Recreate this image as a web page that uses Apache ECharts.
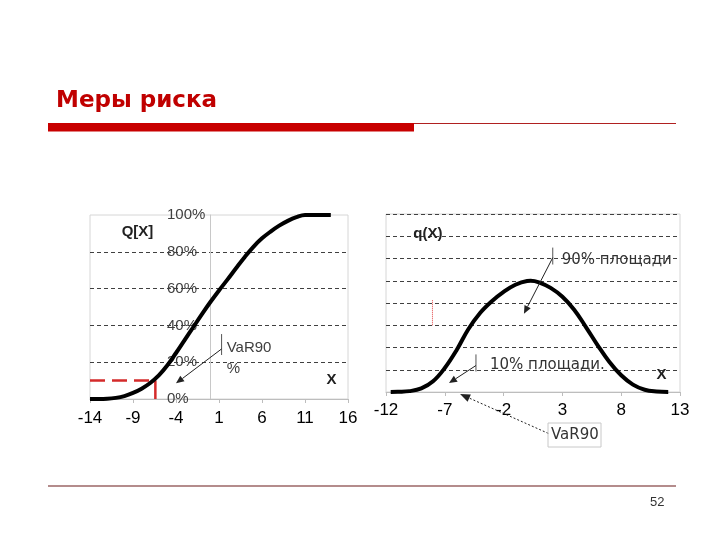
<!DOCTYPE html>
<html><head><meta charset="utf-8">
<script src="https://cdn.jsdelivr.net/npm/echarts@6/dist/echarts.min.js"></script>
<style>html,body{margin:0;padding:0;background:#fff}#c{width:720px;height:540px}</style>
</head><body><div id="c"></div>
<script>
// ---- Left chart: cumulative distribution Q[X] ----
const cdfX = [-14,-13,-12,-11,-10,-9,-8,-7,-6,-5,-4,-3,-2,-1,0,1,2,3,4,5,6,7,8,9,10,11,12,13,14];
const cdfY = [0,0,0.001,0.006,0.016,0.033,0.056,0.087,0.128,0.183,0.25,0.32,0.39,0.46,0.527,0.59,0.65,0.712,0.772,0.827,0.873,0.91,0.942,0.968,0.988,1,1,1,1];
const cdfTicks = [-14,-9,-4,1,6,11,16];
const varLevelX = [-14,-6.4];   // dashed red: 10% level
const varLevelY = [0.1,0.1];
const varDropX = [-6.4,-6.4];   // vertical red at VaR
const varDropY = [0,0.1];
// ---- Right chart: density q(X) ----
const pdfX = [-11.6,-11,-10,-9,-8,-7,-6,-5,-4,-3,-2,-1,0,0.3,1,2,3,4,5,6,7,8,9,10,11,12];
const pdfY = [0,0.01,0.04,0.16,0.48,1.08,1.88,2.82,3.55,4.08,4.5,4.82,4.99,5.0,4.93,4.68,4.28,3.7,2.92,2.1,1.35,0.75,0.33,0.1,0.02,0];
const pdfTicks = [-12,-7,-2,3,8,13];
const redMarkX = [-8.05,-8.05];
const redMarkY = [3.0,4.15];

const zipXY = (xs, ys) => xs.map((x, i) => [x, ys[i]]);

const chart = echarts.init(document.getElementById('c'), null, {renderer: 'canvas'});
const gridColor = '#d6d6d6';
const dashColor = '#404040';

const option = {
  backgroundColor: '#ffffff',
  animation: false,
  grid: [
    {left: 90, top: 215, width: 258, height: 184, show: true, borderColor: gridColor, borderWidth: 1, backgroundColor: 'transparent'},
    {left: 386, top: 214, width: 294, height: 178, show: true, borderColor: gridColor, borderWidth: 1, backgroundColor: 'transparent'}
  ],
  xAxis: [
    {gridIndex: 0, type: 'value', min: -14, max: 16, interval: 5,
     axisLine: {show: true, onZero: false, lineStyle: {color: '#bdbdbd', width: 1}},
     axisTick: {show: true, length: 4, lineStyle: {color: '#bdbdbd'}},
     axisLabel: {margin: 11, color: '#000', fontSize: 17, fontFamily: 'Liberation Sans'},
     splitLine: {show: false}},
    {gridIndex: 1, type: 'value', min: -12, max: 13, interval: 5,
     axisLine: {show: true, onZero: false, lineStyle: {color: '#bdbdbd', width: 1}},
     axisTick: {show: true, length: 4, lineStyle: {color: '#bdbdbd'}},
     axisLabel: {margin: 10, color: '#000', fontSize: 17, fontFamily: 'Liberation Sans'},
     splitLine: {show: false}}
  ],
  yAxis: [
    {gridIndex: 0, type: 'value', min: 0, max: 1, interval: 0.2,
     axisLine: {show: true, onZero: true, lineStyle: {color: '#c8c8c8', width: 1}},
     axisTick: {show: false},
     axisLabel: {align: 'left', margin: -77, color: '#404040', fontSize: 15, fontFamily: 'Liberation Sans',
                 formatter: v => Math.round(v * 100) + '%'},
     splitLine: {show: true, lineStyle: {type: [4, 3], width: 1,
                 color: ['transparent', dashColor, dashColor, dashColor, dashColor, 'transparent']}}},
    {gridIndex: 1, type: 'value', min: 0, max: 8, interval: 1,
     axisLine: {show: false}, axisTick: {show: false}, axisLabel: {show: false},
     splitLine: {show: true, lineStyle: {type: [4, 3], width: 1,
                 color: ['transparent', dashColor, dashColor, dashColor, dashColor, dashColor, dashColor, dashColor, dashColor]}}}
  ],
  series: [
    {type: 'line', xAxisIndex: 0, yAxisIndex: 0, data: zipXY(varLevelX, varLevelY), symbol: 'none', z: 3,
     lineStyle: {color: '#d42a2a', width: 2.5, type: [15, 7]}},
    {type: 'line', xAxisIndex: 0, yAxisIndex: 0, data: zipXY(varDropX, varDropY), symbol: 'none', z: 3,
     lineStyle: {color: '#d42a2a', width: 2.5}},
    {type: 'line', xAxisIndex: 0, yAxisIndex: 0, data: zipXY(cdfX, cdfY), symbol: 'none', smooth: 0.4, z: 4,
     lineStyle: {color: '#000', width: 4}},
    {type: 'line', xAxisIndex: 1, yAxisIndex: 1, data: zipXY(redMarkX, redMarkY), symbol: 'none', z: 3,
     lineStyle: {color: '#e04040', width: 1, type: [1, 1]}},
    {type: 'line', xAxisIndex: 1, yAxisIndex: 1, data: zipXY(pdfX, pdfY), symbol: 'none', smooth: 0.4, z: 4,
     lineStyle: {color: '#000', width: 4}}
  ]
};
chart.setOption(option);

// ---- annotations (anchored in data coordinates) ----
const P = (g, pt) => chart.convertToPixel({gridIndex: g}, pt);
function arrow(g, from, to, opts) {
  const a = P(g, from), b = P(g, to);
  const dx = b[0] - a[0], dy = b[1] - a[1], L = Math.hypot(dx, dy);
  const ux = dx / L, uy = dy / L, hl = opts.head || 8, hw = opts.hw || 3.5;
  const bx = b[0] - ux * hl, by = b[1] - uy * hl;
  return [
    {type: 'line', shape: {x1: a[0], y1: a[1], x2: bx, y2: by}, z: 10,
     style: {stroke: opts.color || '#222', lineWidth: opts.width || 1, lineDash: opts.dash || null}},
    {type: 'polygon', z: 10, shape: {points: [[b[0], b[1]], [bx - uy * hw, by + ux * hw], [bx + uy * hw, by - ux * hw]]},
     style: {fill: opts.color || '#222'}}
  ];
}
function vbar(g, x, y1, y2) {
  const a = P(g, [x, y1]), b = P(g, [x, y2]);
  return {type: 'line', z: 10, shape: {x1: a[0], y1: a[1], x2: b[0], y2: b[1]}, style: {stroke: '#555', lineWidth: 1}};
}
function txt(x, y, s, font, color, extra) {
  return Object.assign({type: 'text', x: x, y: y, z: 11,
    style: {text: s, font: font, fill: color || '#333', textVerticalAlign: 'middle', textAlign: 'left'}}, extra || {});
}

const g = [];
// slide decoration
g.push(txt(56, 101, 'Меры риска', 'bold 23px "DejaVu Sans"', '#c00000'));
g.push({type: 'rect', shape: {x: 48, y: 123, width: 366, height: 8.5}, style: {fill: '#c80000'}});
g.push({type: 'line', shape: {x1: 414, y1: 123.5, x2: 676, y2: 123.5}, style: {stroke: '#b02020', lineWidth: 1}});
g.push({type: 'line', shape: {x1: 48, y1: 486, x2: 676, y2: 486}, style: {stroke: '#b48c8c', lineWidth: 2}});
g.push(txt(650, 502, '52', '13px "Liberation Sans"', '#333'));

// left chart annotations
g.push(txt(121.7, 232, 'Q[X]', 'bold 15px "Liberation Sans"', '#222'));
g.push(txt(326.5, 380, 'X', 'bold 15px "Liberation Sans"', '#222'));
g.push(vbar(0, 1.3, 0.353, 0.239));
g.push(...arrow(0, [1.3, 0.272], [-4.0, 0.085], {head: 8, hw: 3.5}));
g.push(txt(226.7, 347.5, 'VaR90', '15px "Liberation Sans"', '#404040'));
g.push(txt(226.7, 369, '%', '15px "Liberation Sans"', '#404040'));

// right chart annotations
g.push(txt(413.3, 234, 'q(X)', 'bold 15px "Liberation Sans"', '#222'));
g.push(txt(656.5, 375, 'X', 'bold 15px "Liberation Sans"', '#222'));
g.push(vbar(1, 2.18, 6.49, 5.73));
g.push(...arrow(1, [2.18, 6.04], [-0.27, 3.52], {head: 8, hw: 3.5}));
g.push(txt(561.7, 260, '90% площади', '15px "DejaVu Sans"', '#333'));
g.push(vbar(1, -4.35, 1.69, 0.92));
g.push(...arrow(1, [-4.35, 1.19], [-6.64, 0.40], {head: 8, hw: 3.5}));
g.push(txt(490, 365.5, '10% площади.', '15px "DejaVu Sans"', '#333'));
g.push(...arrow(1, [1.8, -1.86], [-5.7, -0.09], {head: 10, hw: 4, dash: [2, 2], color: '#222'}));
g.push({type: 'rect', z: 10, shape: {x: 548, y: 423, width: 53, height: 24}, style: {fill: 'none', stroke: '#c8c8c8', lineWidth: 1}});
g.push(txt(551, 435, 'VaR90', '15px "DejaVu Sans"', '#333'));

chart.setOption({graphic: g});
</script>
</body></html>
